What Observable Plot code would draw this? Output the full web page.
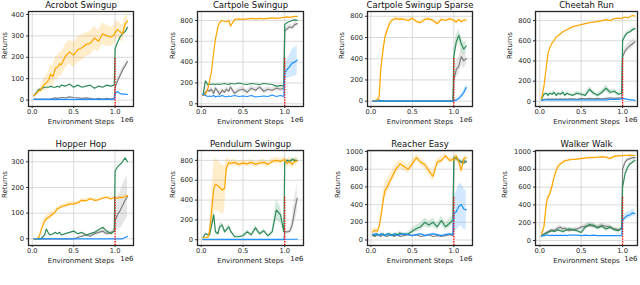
<!DOCTYPE html>
<html><head><meta charset="utf-8">
<script src="https://cdn.jsdelivr.net/npm/d3@7"></script>
<script src="https://cdn.jsdelivr.net/npm/@observablehq/plot@0.6"></script>
<style>
body{margin:0;background:#fff;}
#fig{position:relative;width:640px;height:285px;overflow:hidden;background:#fff;}
#fig svg{position:absolute;overflow:visible;}
</style></head><body><div id="fig"></div>
<script>
// x positions (environment steps, units of 1e6)
const steps = [0.02,0.05,0.08,0.1,0.12,0.15,0.17,0.2,0.22,0.25,0.28,0.3,0.33,0.35,0.4,0.45,0.5,0.55,0.6,0.65,0.7,0.75,0.8,0.85,0.9,0.95,0.99,1.0,1.03,1.06,1.09,1.12,1.15];
const xTicks = [0, 0.5, 1.0];
const titles = ["Acrobot Swingup","Cartpole Swingup","Cartpole Swingup Sparse","Cheetah Run","Hopper Hop","Pendulum Swingup","Reacher Easy","Walker Walk"];
const yTicks4 = [0,100,200,300,400];
const yTicks3 = [0,100,200,300];
const yTicks8 = [0,200,400,600,800];
const yTicks10 = [0,200,400,600,800,1000];
const redTops = [200,440,410,440,165,430,490,495];

// Acrobot Swingup
const acrobot_orange = [20,30,45,45,60,75,80,95,120,110,150,150,170,165,205,225,210,235,245,260,265,290,275,310,300,295,305,315,330,320,310,355,370];
const acrobot_orange_sd = [5,8,10,15,20,30,35,40,45,50,50,55,55,55,55,55,60,60,60,55,55,55,50,50,50,45,45,45,40,40,40,35,30];
const acrobot_green = [20,35,50,50,55,60,60,60,65,60,60,65,60,70,65,75,60,70,60,65,70,55,65,60,70,65,70,240,270,295,310,320,340];
const acrobot_gray = [5,5,5,5,5,5,5,5,5,8,10,8,10,12,10,15,12,10,8,10,8,5,8,5,8,5,8,60,90,115,140,160,180];
const acrobot_gray_sd = [0,0,0,0,0,0,0,0,0,0,0,0,0,0,0,0,0,0,0,0,0,0,0,0,0,0,0,10,15,15,15,15,15];
const acrobot_blue = [3,3,3,3,3,3,4,3,4,3,4,3,4,3,4,3,4,3,4,3,4,3,4,3,4,3,4,30,40,30,28,28,26];

// Cartpole Swingup
const cartpole_orange = [80,90,150,220,300,500,620,740,780,800,790,785,800,745,810,815,810,815,820,815,820,815,820,825,820,825,830,830,835,830,835,840,840];
const cartpole_green = [80,220,180,190,185,190,185,190,185,190,195,190,185,195,190,200,190,185,195,190,185,195,190,185,170,175,175,760,780,790,800,805,800];
const cartpole_gray = [80,110,130,120,140,100,150,120,90,130,110,140,120,160,100,130,140,110,150,130,160,120,140,130,150,140,150,700,720,740,730,760,770];
const cartpole_gray_sd = [0,10,20,20,25,25,25,25,25,25,25,25,25,25,25,25,25,25,25,25,25,25,25,25,25,25,25,25,25,25,25,25,25];
const cartpole_blue = [90,80,70,75,70,80,65,75,70,80,70,65,75,70,80,70,75,70,80,65,70,75,70,85,70,80,70,300,330,360,390,400,420];
const cartpole_blue_sd = [0,0,0,0,0,0,0,0,0,0,0,0,0,0,0,0,0,0,0,0,0,0,0,0,0,0,0,60,90,110,130,140,140];

// Cartpole Swingup Sparse
const sparse_orange = [0,5,15,40,300,500,600,680,720,760,770,780,770,775,770,760,780,750,740,770,775,760,730,770,760,775,765,760,745,770,750,760,765];
const sparse_orange_sd = [0,3,10,30,40,40,30,20,20,15,15,15,15,15,15,15,15,15,15,15,15,15,15,15,15,15,15,15,15,15,15,15,15];
const sparse_green = [0,0,5,10,5,3,2,2,2,2,2,2,2,2,2,2,2,2,2,2,2,2,2,2,2,2,2,420,560,620,540,490,520];
const sparse_green_sd = [0,0,0,0,0,0,0,0,0,0,0,0,0,0,0,0,0,0,0,0,0,0,0,0,0,0,0,60,60,60,60,60,50];
const sparse_gray = [0,0,0,0,0,0,0,0,0,0,0,0,0,0,0,0,0,0,0,0,0,0,0,0,0,0,0,200,300,330,420,380,400];
const sparse_gray_sd = [0,0,0,0,0,0,0,0,0,0,0,0,0,0,0,0,0,0,0,0,0,0,0,0,0,0,0,60,80,80,80,70,60];
const sparse_blue = [0,0,0,0,0,0,0,0,0,0,0,0,0,0,0,0,0,0,0,0,0,0,0,0,0,0,0,5,10,25,50,80,130];
const sparse_blue_sd = [0,0,0,0,0,0,0,0,0,0,0,0,0,0,0,0,0,0,0,0,0,0,0,0,0,0,0,5,10,15,20,25,30];

// Cheetah Run
const cheetah_orange = [20,150,350,480,530,580,600,640,650,670,690,700,710,720,740,750,760,770,780,785,790,800,810,800,820,825,820,830,835,825,840,850,845];
const cheetah_green = [20,70,80,60,80,70,90,60,80,70,90,60,80,70,60,80,70,60,120,80,60,90,130,90,100,70,80,600,650,680,690,710,720];
const cheetah_green_sd = [5,10,15,15,15,15,20,15,15,15,20,15,15,15,15,20,20,20,30,20,20,25,35,25,25,20,20,20,20,20,20,20,20];
const cheetah_gray = [15,20,20,25,20,25,20,25,20,25,20,25,20,25,25,20,30,25,30,25,30,25,30,35,30,35,30,440,500,530,550,570,590];
const cheetah_gray_sd = [0,0,0,0,0,0,0,0,0,0,0,0,0,0,0,0,0,0,0,0,0,0,0,0,0,0,0,30,40,40,40,40,40];
const cheetah_blue = [10,15,15,15,15,15,15,15,15,15,15,15,15,15,15,15,15,15,15,15,15,15,15,20,20,20,25,30,25,20,15,15,10];

// Hopper Hop
const hopper_orange = [0,0,5,25,45,70,78,84,90,97,105,117,120,125,130,135,136,140,150,148,156,150,152,158,162,155,160,160,158,162,160,165,168];
const hopper_orange_sd = [0,0,3,8,10,12,12,12,12,10,10,10,8,8,8,8,8,6,6,6,6,6,6,6,6,6,6,6,6,6,6,6,6];
const hopper_green = [0,0,0,0,5,15,38,20,15,20,25,20,25,15,20,25,30,20,25,15,20,25,35,45,30,20,30,265,280,290,300,315,300];
const hopper_gray = [0,0,0,0,0,0,0,0,0,0,0,0,0,0,0,0,0,5,10,15,10,20,25,30,20,25,30,70,95,110,130,150,165];
const hopper_gray_sd = [0,0,0,0,0,0,0,0,0,0,0,0,0,0,0,0,0,3,5,5,5,8,8,8,8,8,8,40,60,70,80,80,80];
const hopper_blue = [0,0,0,0,0,0,0,0,0,0,0,0,0,0,0,0,0,0,0,0,0,0,0,0,0,0,0,0,0,0,0,5,10];

// Pendulum Swingup
const pendulum_orange = [20,20,25,90,250,520,560,545,530,500,520,720,780,770,780,760,775,765,780,760,775,780,760,790,800,790,810,800,770,790,760,790,795];
const pendulum_orange_sd = [5,5,10,50,150,250,260,260,250,250,230,100,40,30,30,30,30,30,30,30,30,30,30,30,30,30,30,30,40,40,40,40,40];
const pendulum_green = [20,60,50,50,130,250,80,60,130,150,80,100,130,90,30,30,40,80,50,120,60,90,40,80,300,250,80,780,800,790,810,800,800];
const pendulum_green_sd = [5,10,10,15,30,40,20,15,30,30,20,20,30,20,10,10,10,20,15,30,15,20,10,20,100,80,30,20,20,20,20,20,20];
const pendulum_gray = [2,2,2,2,2,2,2,2,2,2,2,2,2,2,2,2,2,2,2,2,2,2,2,2,2,2,2,80,80,85,150,300,420];
const pendulum_gray_sd = [0,0,0,0,0,0,0,0,0,0,0,0,0,0,0,0,0,0,0,0,0,0,0,0,0,0,0,10,15,20,60,120,150];
const pendulum_blue = [3,3,3,3,3,3,3,3,3,3,3,3,3,3,3,3,3,3,3,3,3,3,3,3,3,3,3,5,5,5,5,5,5];

// Reacher Easy
const reacher_orange = [90,110,100,150,250,450,560,600,650,700,760,800,830,860,830,800,860,930,880,850,780,720,880,900,950,900,910,900,950,880,790,920,930];
const reacher_orange_sd = [20,30,30,40,60,80,80,80,70,70,60,60,50,50,50,50,50,40,40,40,50,60,40,40,30,30,30,30,30,40,50,30,30];
const reacher_green = [60,50,70,50,60,70,50,60,70,60,50,70,60,80,60,70,100,130,150,200,170,200,150,220,150,190,230,930,920,900,880,870,890];
const reacher_green_sd = [10,10,15,10,15,15,10,15,15,15,10,15,15,20,15,20,30,40,40,50,40,50,40,50,40,50,50,30,30,30,30,30,30];
const reacher_gray = [50,40,60,50,40,60,50,40,50,60,40,50,60,40,50,60,50,60,40,50,60,40,50,40,50,60,50,900,930,900,880,900,880];
const reacher_blue = [60,70,60,50,70,60,50,70,60,50,70,60,50,60,70,60,50,60,70,50,60,70,60,50,60,70,60,300,320,380,400,350,340];
const reacher_blue_sd = [10,10,10,10,10,10,10,10,10,10,10,10,10,10,10,10,10,10,10,10,10,10,10,10,10,10,10,200,220,240,240,230,220];

// Walker Walk
const walker_orange = [70,150,420,490,520,620,700,790,830,860,880,895,900,905,910,915,920,925,930,930,935,940,935,920,945,950,950,955,955,955,960,955,955];
const walker_orange_sd = [10,30,40,30,30,30,30,25,20,15,15,10,10,10,10,10,10,10,10,10,10,10,10,15,10,10,10,10,10,10,10,10,10];
const walker_green = [50,70,80,90,100,110,100,110,120,110,100,110,120,130,120,110,90,150,180,170,140,160,130,150,120,110,140,600,750,820,860,880,900];
const walker_green_sd = [5,10,10,10,15,15,15,15,20,20,20,20,20,20,20,20,20,25,25,25,25,25,25,25,20,20,20,20,20,20,20,20,20];
const walker_gray = [50,70,90,100,110,120,110,130,140,150,130,140,120,110,120,130,150,160,170,160,150,170,160,150,130,120,130,800,880,910,920,930,930];
const walker_gray_sd = [5,10,10,10,15,15,15,20,20,25,20,20,20,20,20,20,20,25,25,25,25,25,25,25,20,20,20,20,20,20,20,20,20];
const walker_blue = [50,55,60,60,55,60,55,60,55,60,55,60,55,60,60,60,55,60,55,60,55,55,55,55,55,55,55,230,260,280,290,310,300];
const walker_blue_sd = [0,0,0,0,0,0,0,0,0,0,0,0,0,0,0,0,0,0,0,0,0,0,0,0,0,0,0,30,40,40,40,40,40];

const colors = {orange:"#ffa500", green:"#2e8b57", gray:"#808080", blue:"#1e90ff"};
const drawOrder = ["gray","green","orange","blue"];

// layout configuration (frame positions in page pixels)
const panels = [
  {series:{orange:acrobot_orange,green:acrobot_green,gray:acrobot_gray,blue:acrobot_blue}, sd:{orange:acrobot_orange_sd,gray:acrobot_gray_sd}, yDomain:[-30,414], yTicks:yTicks4, left:28, top:11, w:105, mr:6, ylab:23.5, xDomain:[-0.045,1.222]},
  {series:{orange:cartpole_orange,green:cartpole_green,gray:cartpole_gray,blue:cartpole_blue}, sd:{gray:cartpole_gray_sd,blue:cartpole_blue_sd}, yDomain:[-26,886], yTicks:yTicks8, left:197, top:11, w:106, mr:6, ylab:25, xDomain:[-0.045,1.225]},
  {series:{orange:sparse_orange,green:sparse_green,gray:sparse_gray,blue:sparse_blue}, sd:{orange:sparse_orange_sd,green:sparse_green_sd,gray:sparse_gray_sd,blue:sparse_blue_sd}, yDomain:[-50,845], yTicks:yTicks8, left:367, top:11, w:105, mr:6, ylab:26, xDomain:[-0.04,1.225]},
  {series:{orange:cheetah_orange,green:cheetah_green,gray:cheetah_gray,blue:cheetah_blue}, sd:{green:cheetah_green_sd,gray:cheetah_gray_sd}, yDomain:[-51,890], yTicks:yTicks8, left:535, top:11, w:102, mr:3, ylab:26, xDomain:[-0.052,1.18]},
  {series:{orange:hopper_orange,green:hopper_green,gray:hopper_gray,blue:hopper_blue}, sd:{orange:hopper_orange_sd,gray:hopper_gray_sd}, yDomain:[-26,344], yTicks:yTicks3, left:28, top:150, w:105, mr:6, ylab:24, xDomain:[-0.045,1.222]},
  {series:{orange:pendulum_orange,green:pendulum_green,gray:pendulum_gray,blue:pendulum_blue}, sd:{orange:pendulum_orange_sd,green:pendulum_green_sd,gray:pendulum_gray_sd}, yDomain:[-58,900], yTicks:yTicks8, left:197, top:150, w:106, mr:6, ylab:25, xDomain:[-0.045,1.225]},
  {series:{orange:reacher_orange,green:reacher_green,gray:reacher_gray,blue:reacher_blue}, sd:{orange:reacher_orange_sd,green:reacher_green_sd,blue:reacher_blue_sd}, yDomain:[-62,1011], yTicks:yTicks10, left:367, top:150, w:105, mr:6, ylab:30, xDomain:[-0.04,1.225]},
  {series:{orange:walker_orange,green:walker_green,gray:walker_gray,blue:walker_blue}, sd:{orange:walker_orange_sd,green:walker_green_sd,gray:walker_gray_sd,blue:walker_blue_sd}, yDomain:[-56,1011], yTicks:yTicks10, left:535, top:150, w:102, mr:3, ylab:31, xDomain:[-0.052,1.18]}
];

const ML = 36, MT = 13, MB = 24, FH = 95;
const fig = document.getElementById("fig");
const fmtX = d3.format(".1f");
const fmtY = d3.format("d");
const frameColor = "#262626";

panels.forEach((p, k) => {
  const rows = key => steps.map((x, i) => ({x, y: p.series[key][i], sd: p.sd[key] ? p.sd[key][i] : 0}));
  const marks = [
    Plot.gridX(xTicks, {stroke:"#d0d0d0", strokeOpacity:1, strokeWidth:0.8}),
    Plot.gridY(p.yTicks, {stroke:"#d0d0d0", strokeOpacity:1, strokeWidth:0.8})
  ];
  for (const key of drawOrder) {
    if (p.sd[key]) marks.push(Plot.areaY(rows(key), {x:"x", y1:d => d.y - d.sd, y2:d => d.y + d.sd, fill:colors[key], fillOpacity:0.2}));
  }
  for (const key of drawOrder) {
    marks.push(Plot.line(rows(key), {x:"x", y:"y", stroke:colors[key], strokeWidth:1.2}));
  }
  marks.push(Plot.ruleX([1.0], {y1:p.yDomain[0], y2:redTops[k], stroke:"#ff0000", strokeWidth:1.3, strokeDasharray:"1.3,1.3"}));
  // axes frame (border of the plotting area)
  marks.push(Plot.frame({stroke:frameColor, strokeWidth:1.3, strokeOpacity:1, fill:"none"}));
  marks.push(Plot.axisX(xTicks, {tickFormat:fmtX, tickSize:2, tickPadding:0.5, label:null, stroke:"#333"}));
  marks.push(Plot.axisY(p.yTicks, {tickFormat:fmtY, tickSize:2, tickPadding:2.5, label:null, stroke:"#333"}));
  marks.push(Plot.text([titles[k]], {text:d => d, frameAnchor:"top", lineAnchor:"middle", dy:-6, fontSize:8.5, fill:"#111"}));
  marks.push(Plot.text(["Environment Steps"], {text:d => d, frameAnchor:"bottom", lineAnchor:"middle", dy:15.5, fontSize:7, fill:"#222"}));
  marks.push(Plot.text(["1e6"], {text:d => d, frameAnchor:"bottom-right", lineAnchor:"middle", dy:13, textAnchor:"end", fontSize:7, fill:"#222"}));
  marks.push(Plot.text(["Returns"], {text:d => d, frameAnchor:"left", lineAnchor:"middle", dx:-p.ylab, rotate:-90, fontSize:7, fill:"#222"}));

  const svg = Plot.plot({
    width: ML + p.w + p.mr,
    height: MT + FH + MB,
    marginLeft: ML, marginRight: p.mr, marginTop: MT, marginBottom: MB,
    x: {domain: p.xDomain, axis: null},
    y: {domain: p.yDomain, axis: null},
    style: {fontFamily: "DejaVu Sans", fontSize: "6.7px", color: "#222", background: "transparent", overflow: "visible"},
    marks
  });
  svg.style.left = (p.left - ML) + "px";
  svg.style.top = (p.top - MT) + "px";
  fig.appendChild(svg);
});
</script>
</body></html>
